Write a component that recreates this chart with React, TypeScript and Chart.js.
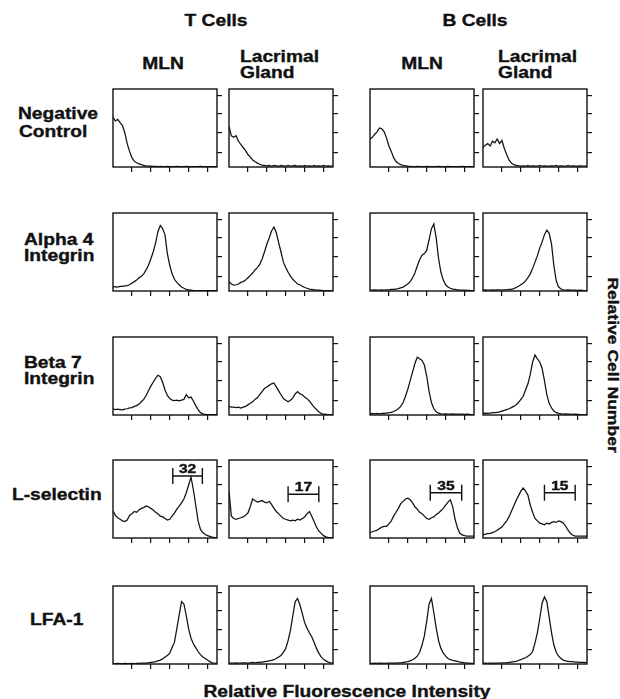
import React, { useEffect, useRef } from 'react';
import { Chart, registerables } from 'chart.js';

Chart.register(...registerables);

// ---------- data ----------
const CHANNELS = [
  0, 1, 2, 3, 4, 5, 6, 7, 8, 9, 10, 11, 12, 13, 14,
  15, 16, 17, 18, 19, 20, 21, 22, 23, 24, 25, 26, 27, 28, 29,
  30, 31, 32, 33, 34, 35, 36, 37, 38, 39, 40, 41, 42, 43, 44,
];
const X_TICKS = [8, 16, 24, 32, 40];
const Y_TICKS = [19, 44, 69, 91];

const CELL_TYPES = ['T Cells', 'B Cells'];
const ROW_LABELS = [
  ['Negative', 'Control'],
  ['Alpha 4', 'Integrin'],
  ['Beta 7', 'Integrin'],
  ['L-selectin'],
  ['LFA-1'],
];
const X_TITLE = 'Relative Fluorescence Intensity';
const Y_TITLE = 'Relative Cell Number';

// Negative control
const NEG_T_MLN = [64, 59, 61, 57, 53, 44, 30, 20, 12, 7.5, 5.5, 4, 3, 2.2, 1.5,
  1.2, 1, 0.8, 0.8, 0.5, 0.8, 0.5, 0.5, 0.8, 0.5, 0.5, 0.5, 0.8, 0.5, 0.5,
  0.5, 0.8, 0.5, 0.5, 0.5, 0.5, 0.5, 0.8, 0.5, 0.5, 0.5, 0.5, 0.5, 0.5, 0.5];
const NEG_T_LG = [52, 40, 38, 40, 33, 29, 25, 21, 16, 13, 9, 7, 5, 3.5, 2.5,
  2, 1.5, 2, 1, 2, 1.5, 1, 2, 1.5, 1, 2, 1, 1.5, 2, 1,
  1.5, 1, 2, 1, 1.5, 1, 2, 1, 1.5, 1, 2, 1, 1.5, 1, 1];
const NEG_B_MLN = [36, 38, 42, 45, 50, 49, 45, 37, 27, 20, 12, 7, 4.5, 3, 2,
  1.5, 1, 0.8, 0.5, 0.5, 0.8, 0.5, 0.5, 0.5, 0.8, 0.5, 0.5, 0.5, 0.5, 0.8,
  0.5, 0.5, 0.5, 0.8, 0.5, 0.5, 0.5, 0.5, 0.5, 0.8, 0.5, 0.5, 0.5, 0.5, 0.5];
const NEG_B_LG = [25, 28, 30, 27, 33, 31, 36, 30, 34, 24, 16, 9, 5, 3, 2,
  1.5, 1, 1.5, 1, 2, 1, 1.5, 1, 1, 2, 1, 1.5, 1, 1, 1.5,
  1, 2, 1, 1.5, 1, 1, 2, 1, 1.5, 1, 1, 1.5, 1, 1, 1];

// Alpha 4 integrin
const A4_T_MLN = [5, 5.5, 5, 6, 6, 6.5, 7, 8, 10, 12, 14, 17, 19, 22, 27,
  33, 41, 50, 61, 76, 84, 80, 72, 48, 33, 22, 15, 11, 8, 5,
  3.5, 2, 1.5, 1, 0.5, 0.5, 0.5, 0.5, 0.5, 0.5, 0.5, 0.5, 0.5, 0.5, 0.5];
const A4_T_LG = [12, 9, 7.5, 8, 9, 11, 12, 14, 17, 20, 23, 27, 30, 34, 41,
  50, 60, 68, 77, 82, 75, 62, 50, 37, 30, 24, 19, 15, 12, 9,
  8, 6, 4.5, 3.5, 2.5, 2, 1.5, 1, 1, 0.8, 0.6, 0.5, 0.5, 0.5, 0.5];
const A4_B_MLN = [1, 1, 1.5, 1, 1, 1.5, 1, 1.5, 1.5, 2, 2, 2.5, 3, 4, 5,
  7, 9, 12, 17, 23, 32, 40, 46, 48, 52, 66, 80, 86, 68, 42,
  24, 14, 8, 5, 3.5, 2.5, 2, 1.5, 1, 1, 1, 0.8, 0.8, 0.5, 0.5];
const A4_B_LG = [1, 1.5, 1, 1, 1.5, 1, 1.5, 1.5, 1, 1.5, 1.5, 2, 2, 3, 4.5,
  6, 8, 10, 13, 17, 22, 29, 37, 45, 55, 63, 72, 78, 74, 60,
  32, 13, 5, 2.5, 1.5, 1, 1.5, 1, 1, 1, 0.8, 1, 0.8, 0.5, 0.5];

// Beta 7 integrin
const B7_T_MLN = [8, 7, 7.5, 7, 6.5, 7.5, 8, 9, 9.5, 11, 12, 14, 17, 20, 25,
  31, 37, 42, 47, 51, 49, 42, 32, 25, 21, 19, 18.5, 19, 18, 19,
  20, 26, 22, 23, 18, 12, 7, 3, 1.5, 0.8, 0.5, 0.5, 0.5, 0.5, 0.5];
const B7_T_LG = [11, 10, 10, 9.5, 10, 9, 10, 11, 13, 15, 17, 20, 22, 26, 30,
  34, 36, 38, 40, 41, 36, 31, 26, 21, 19, 17, 19, 22, 27, 30,
  27, 26, 23, 21, 18, 14, 10, 7, 4, 2, 1, 0.8, 0.5, 0.5, 0.5];
const B7_B_MLN = [1.5, 2, 1.5, 2, 1.5, 2, 2, 2.5, 3, 3.5, 4.5, 6, 8, 11, 16,
  24, 33, 44, 55, 66, 74, 72, 70, 64, 50, 30, 16, 8, 4, 2.5,
  1.5, 1, 1.5, 1, 1, 1.5, 1, 1, 1, 1, 0.8, 1, 0.8, 0.5, 0.5];
const B7_B_LG = [2, 2.5, 2, 2.5, 3, 3, 3.5, 4, 5, 6, 7, 8, 9.5, 11, 13,
  16, 20, 24, 32, 40, 52, 68, 77, 72, 68, 60, 44, 26, 15, 9,
  5, 3, 2, 1.5, 1, 1.5, 1, 1, 0.8, 1, 0.8, 0.5, 0.5, 0.5, 0.5];

// L-selectin
const LS_T_MLN = [35, 29, 26, 24, 22, 21, 23, 29, 31, 34, 33, 36, 38, 39, 41,
  40, 38, 36, 33, 31, 28, 27, 25, 23, 24, 28, 32, 37, 41, 45,
  50, 58, 68, 78, 62, 42, 22, 11, 7, 4.5, 3, 2, 1, 0.5, 0.3];
const LS_T_LG = [60, 28, 25, 24, 25, 26, 27, 29, 32, 40, 50, 48, 46, 47, 48,
  46, 45, 47, 43, 38, 34, 31, 28, 25, 24, 23, 22, 23, 22, 24,
  23, 25, 27, 31, 34, 28, 21, 14, 9, 6, 3, 1.5, 0.8, 0.5, 0.5];
const LS_B_MLN = [7, 8, 9, 10, 12, 14, 15, 15, 18, 22, 28, 33, 38, 44, 47,
  50, 51, 49, 45, 40, 37, 33, 31, 28, 25, 24, 26, 27, 30, 32,
  35, 38, 42, 46, 49, 40, 24, 13, 6, 4, 3, 2.5, 2.5, 2.5, 2.5];
const LS_B_LG = [4, 5, 5.5, 6, 7, 8, 10, 12, 14, 18, 22, 27, 34, 41, 48,
  54, 60, 64, 60, 55, 42, 33, 25, 22, 19, 18, 17, 19, 18, 20,
  21, 20, 22, 21, 19, 15, 10, 6, 3.5, 2.5, 2.5, 2.5, 2.5, 2.5, 2.5];

// LFA-1
const LFA_T_MLN = [0.5, 0.5, 0.8, 0.5, 0.5, 0.8, 0.5, 0.5, 0.8, 0.5, 0.8, 0.8, 1, 1, 1,
  1.5, 2, 2.5, 3, 4, 5, 6.5, 9, 11, 14, 21, 28, 45, 63, 80,
  77, 62, 45, 33, 26, 21, 16, 12, 9, 7, 5, 3, 1.5, 1, 0.8];
const LFA_T_LG = [1, 1, 1, 1.5, 1, 1, 1.5, 1.5, 1, 1.5, 2, 1.5, 2, 2, 2.5,
  3, 3.5, 4, 4.5, 5.5, 7, 9, 11, 15, 20, 30, 43, 62, 80, 84,
  76, 65, 53, 46, 40, 35, 28, 20, 14, 9, 6, 4, 2.5, 1.5, 1];
const LFA_B_MLN = [0.8, 0.8, 1, 0.8, 1, 1, 0.8, 1, 1, 1.2, 1, 1.2, 1.5, 1.5, 2,
  2.5, 3, 4, 5.5, 7.5, 10, 15, 24, 36, 55, 77, 84, 66, 46, 30,
  20, 14, 10, 7, 5.5, 4.5, 4, 3.5, 2.5, 2, 1.5, 1, 1, 0.8, 0.8];
const LFA_B_LG = [1, 1, 0.8, 1, 1, 1.2, 1, 1.2, 1.5, 1.5, 1.5, 2, 2.5, 3, 3.5,
  4.5, 5.5, 7, 8, 10, 12, 16, 27, 40, 58, 78, 86, 80, 60, 40,
  24, 15, 10, 7, 5, 4, 3.5, 3, 3, 2.5, 2.5, 2, 2, 2, 1.5];

const SERIES = [
  [NEG_T_MLN, NEG_T_LG, NEG_B_MLN, NEG_B_LG],
  [A4_T_MLN, A4_T_LG, A4_B_MLN, A4_B_LG],
  [B7_T_MLN, B7_T_LG, B7_B_MLN, B7_B_LG],
  [LS_T_MLN, LS_T_LG, LS_B_MLN, LS_B_LG],
  [LFA_T_MLN, LFA_T_LG, LFA_B_MLN, LFA_B_LG],
];

// L-selectin gate markers (channel range, height, percentage)
const GATE_FROM = [25.3, 25, 25.5, 26];
const GATE_TO = [37.8, 38, 38.8, 39];
const GATE_LEVEL = [79.5, 56, 58, 58];
const GATE_PCT = ['32', '17', '35', '15'];

// ---------- layout ----------
const COL_X = [113, 229, 370, 483];
const ROW_Y = [89, 213, 337, 460, 586];
const PW = 104;
const PH = 78;
const PAD = 3;
const TICK = 5;
const FONT = '"Liberation Sans", Arial, Helvetica, sans-serif';
const INK = '#111111';

const framePlugin = {
  id: 'frame',
  afterDraw(chart: any) {
    const { ctx, chartArea: a } = chart;
    ctx.save();
    ctx.strokeStyle = INK;
    ctx.lineWidth = 1.4;
    ctx.strokeRect(a.left, a.top, a.right - a.left, a.bottom - a.top);
    ctx.restore();
  },
};

function makeGatePlugin(gate: any) {
  return {
    id: 'gate',
    afterDatasetsDraw(chart: any) {
      if (!gate) return;
      const { ctx } = chart;
      const xs = chart.scales.x;
      const ys = chart.scales.y;
      const x1 = xs.getPixelForValue(gate.from);
      const x2 = xs.getPixelForValue(gate.to);
      const yy = ys.getPixelForValue(gate.level);
      ctx.save();
      ctx.strokeStyle = INK;
      ctx.lineWidth = 1.4;
      ctx.beginPath();
      ctx.moveTo(x1, yy);
      ctx.lineTo(x2, yy);
      ctx.moveTo(x1, yy - 8);
      ctx.lineTo(x1, yy + 8);
      ctx.moveTo(x2, yy - 8);
      ctx.lineTo(x2, yy + 8);
      ctx.stroke();
      ctx.fillStyle = INK;
      ctx.font = `bold 13px ${FONT}`;
      ctx.textAlign = 'center';
      ctx.textBaseline = 'alphabetic';
      ctx.translate((x1 + x2) / 2, yy - 3);
      ctx.scale(1.2, 1);
      ctx.lineWidth = 0.4;
      ctx.strokeText(gate.label, 0, 0);
      ctx.fillText(gate.label, 0, 0);
      ctx.restore();
    },
  };
}

function Panel({ values, left, top, gate }: any) {
  const ref = useRef<HTMLCanvasElement>(null);
  useEffect(() => {
    const chart = new Chart(ref.current as HTMLCanvasElement, {
      type: 'line',
      data: {
        datasets: [
          {
            data: CHANNELS.map((c, i) => ({ x: c, y: values[i] })),
            borderColor: INK,
            borderWidth: 1.25,
            pointRadius: 0,
            fill: false,
            tension: 0,
          },
        ],
      },
      options: {
        responsive: false,
        animation: false,
        events: [],
        layout: { padding: { left: PAD, top: PAD, right: 1, bottom: 1 } },
        plugins: {
          legend: { display: false },
          tooltip: { enabled: false },
          title: { display: false },
        },
        scales: {
          x: {
            type: 'linear',
            position: 'bottom',
            min: 0,
            max: 44,
            afterBuildTicks: (ax: any) => {
              ax.ticks = X_TICKS.map((v) => ({ value: v }));
            },
            ticks: { display: false },
            grid: { drawOnChartArea: false, drawTicks: true, tickLength: TICK, color: INK, lineWidth: 1.2 },
            border: { display: false },
          },
          y: {
            type: 'linear',
            position: 'right',
            min: 0,
            max: 100,
            afterBuildTicks: (ax: any) => {
              ax.ticks = Y_TICKS.map((v) => ({ value: v }));
            },
            ticks: { display: false },
            grid: { drawOnChartArea: false, drawTicks: true, tickLength: TICK, color: INK, lineWidth: 1.2 },
            border: { display: false },
          },
        },
      } as any,
      plugins: [framePlugin, makeGatePlugin(gate)],
    });
    return () => chart.destroy();
  }, []);
  return (
    <canvas
      ref={ref}
      width={PAD + PW + TICK + 1}
      height={PAD + PH + TICK + 1}
      style={{ position: 'absolute', left: left - PAD, top: top - PAD }}
    />
  );
}

function Txt({ x, y, text, align = 'left', size = 16, sx = 1.2 }: any) {
  const style: any = {
    position: 'absolute',
    left: x,
    top: y - size * 0.13,
    font: `bold ${size}px ${FONT}`,
    lineHeight: `${size}px`,
    whiteSpace: 'nowrap',
    color: INK,
    WebkitTextStroke: `0.35px ${INK}`,
    transformOrigin: align === 'left' ? 'left top' : 'center top',
    transform: align === 'left' ? `scaleX(${sx})` : `translateX(-50%) scaleX(${sx})`,
  };
  return <div style={style}>{text}</div>;
}

const ROW_LABEL_POS = [
  [[18, 108], [19, 126]],
  [[24, 234], [24, 250]],
  [[24, 357], [24, 373]],
  [[12, 489]],
  [[30, 614]],
];

export default function App() {
  const panels: any[] = [];
  SERIES.forEach((row, r) => {
    row.forEach((vals, c) => {
      const gate =
        r === 3
          ? { from: GATE_FROM[c], to: GATE_TO[c], level: GATE_LEVEL[c], label: GATE_PCT[c] }
          : null;
      panels.push(<Panel key={`${r}-${c}`} values={vals} left={COL_X[c]} top={ROW_Y[r]} gate={gate} />);
    });
  });

  return (
    <div
      style={{
        position: 'fixed',
        left: 0,
        top: 0,
        width: 620,
        height: 699,
        background: '#ffffff',
        overflow: 'hidden',
      }}
    >
      <Txt x={216} y={15} text={CELL_TYPES[0]} align="center" />
      <Txt x={475} y={15} text={CELL_TYPES[1]} align="center" />
      <Txt x={163} y={58} text="MLN" align="center" />
      <Txt x={422} y={58} text="MLN" align="center" />
      <Txt x={240} y={51} text="Lacrimal" />
      <Txt x={240} y={67} text="Gland" />
      <Txt x={498} y={51} text="Lacrimal" />
      <Txt x={498} y={67} text="Gland" />
      {ROW_LABELS.map((lines, r) =>
        lines.map((t, i) => (
          <Txt key={`rl-${r}-${i}`} x={ROW_LABEL_POS[r][i][0]} y={ROW_LABEL_POS[r][i][1]} text={t} />
        ))
      )}
      {panels}
      <Txt x={347} y={686} text={X_TITLE} align="center" />
      <div
        style={{
          position: 'absolute',
          left: 612.5,
          top: 364.5,
          font: `bold 15px ${FONT}`,
          lineHeight: '15px',
          whiteSpace: 'nowrap',
          color: INK,
          WebkitTextStroke: `0.35px ${INK}`,
          transform: 'translate(-50%, -50%) rotate(90deg) scaleX(1.17)',
        }}
      >
        {Y_TITLE}
      </div>
    </div>
  );
}
